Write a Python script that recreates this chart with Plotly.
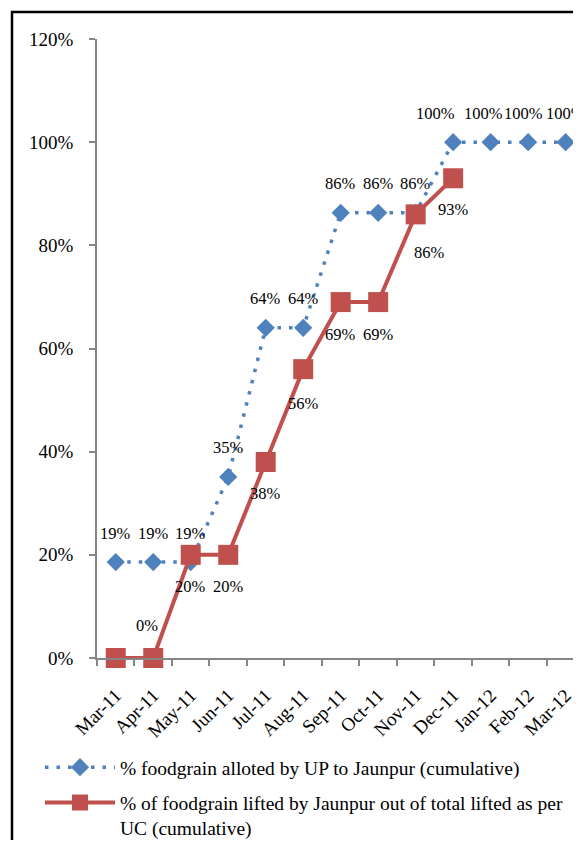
import plotly.graph_objects as go

months = ["Mar-11", "Apr-11", "May-11", "Jun-11", "Jul-11", "Aug-11", "Sep-11",
          "Oct-11", "Nov-11", "Dec-11", "Jan-12", "Feb-12", "Mar-12"]
allotted = [0.186, 0.186, 0.186, 0.351, 0.64, 0.64, 0.863, 0.863, 0.863, 1.0, 1.0, 1.0, 1.0]
lifted_months = months[:10]
lifted = [0.0, 0.0, 0.20, 0.20, 0.38, 0.56, 0.69, 0.69, 0.86, 0.93]

name_allot = "% foodgrain alloted by UP to Jaunpur (cumulative)"
name_lift = "% of foodgrain lifted by Jaunpur out of total lifted as per<br>UC (cumulative)"

BLUE = "#4F81BD"
RED = "#C0504D"
FONT = "Liberation Serif"

fig = go.Figure()
fig.add_trace(go.Scatter(
    x=months, y=allotted, name=name_allot, mode="lines+markers",
    line=dict(color=BLUE, width=3.5, dash="3.5px,8px"),
    marker=dict(symbol="diamond", size=14, color=BLUE),
    cliponaxis=False, legendgroup="a"))
fig.add_trace(go.Scatter(
    x=lifted_months, y=lifted, name=name_lift, mode="lines+markers",
    line=dict(color=RED, width=4),
    marker=dict(symbol="square", size=20, color=RED),
    cliponaxis=False, legendgroup="b"))

# data label offsets (pixels) - positions only
blue_dx = [0, 0, 0, 0, 0, 0, 0, 0, 0, -18, -7, -5, 0]
red_dx = [0, -6, 0, 0, 0, 0, 0, 0, 14, 0]
red_dy = [None, 33, -32, -32, -32, -34, -32, -32, -38, -31]

annotations = []
for m, v, dx in zip(months, allotted, blue_dx):
    annotations.append(dict(x=m, y=v, text=f"{v:.0%}", showarrow=False,
                            xshift=dx, yshift=29, font=dict(family=FONT, size=16.5, color="black")))
for m, v, dx, dy in zip(lifted_months, lifted, red_dx, red_dy):
    if dy is None:
        continue
    annotations.append(dict(x=m, y=v, text=f"{v:.0%}", showarrow=False,
                            xshift=dx, yshift=dy, font=dict(family=FONT, size=16.5, color="black")))

# page body has an 8px margin; the figure is sized/positioned to compensate
W, H = 573, 832
L, R, T, B = 89, 0, 31, 182
pw, ph = W - L - R, H - T - B

def px_x(p):
    return (p - L) / pw

def px_y(p):
    return (H - B - p) / ph

fig.update_layout(
    width=W, height=H,
    margin=dict(l=L, r=R, t=T, b=B, pad=0, autoexpand=False),
    paper_bgcolor="white", plot_bgcolor="white",
    font=dict(family=FONT, size=17, color="black"),
    showlegend=True,
    legend=dict(x=px_x(32), y=px_y(740), xanchor="left", yanchor="top",
                font=dict(family=FONT, size=19.5, color="black"),
                tracegroupgap=7, valign="top", itemwidth=70,
                bgcolor="rgba(0,0,0,0)"),
    annotations=annotations,
    shapes=[dict(type="rect", xref="paper", yref="paper",
                 x0=px_x(4), x1=px_x(620), y0=px_y(900), y1=px_y(4),
                 line=dict(color="black", width=2.5), fillcolor="rgba(0,0,0,0)", layer="above")],
)
fig.update_xaxes(
    type="category", range=[-0.5, 12.41], showgrid=False, zeroline=False,
    showline=True, linecolor="#868686", linewidth=1.5, automargin=False,
    ticks="outside", tickson="boundaries", ticklen=6, tickcolor="#868686", tickwidth=1.5,
    tickangle=-45, ticklabelstandoff=17, tickfont=dict(family=FONT, size=19, color="black"))
fig.update_yaxes(
    range=[0, 1.2], dtick=0.2, tickformat=".0%", showgrid=False, zeroline=False,
    showline=True, linecolor="#868686", linewidth=1.5, automargin=False,
    ticks="outside", ticklen=6, tickcolor="#868686", tickwidth=1.5,
    ticklabelstandoff=12, tickfont=dict(family=FONT, size=19, color="black"))

fig.write_html("out.html")
